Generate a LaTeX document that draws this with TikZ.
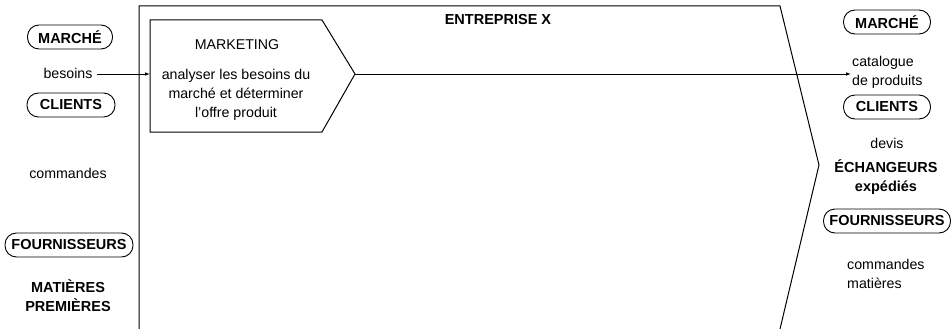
\documentclass[tikz,border=0pt]{standalone}
\usepackage{fontspec}
\setmainfont{Liberation Sans}
\usetikzlibrary{arrows.meta}
\begin{document}
\begin{tikzpicture}[x=1pt,y=-1pt,
  txt/.style={font=\fontsize{14.2}{19}\selectfont, inner sep=1pt, align=center},
  btxt/.style={txt, font=\fontsize{14.5}{19}\selectfont\bfseries},
  oval/.style={btxt, draw, line width=0.9pt, rectangle, rounded corners=11.5pt, minimum height=24pt, inner xsep=4pt},
  frame/.style={line width=1pt},
  arr/.style={line width=0.9pt, -{Latex[length=5pt,width=3.6pt]}}]
\useasboundingbox (0,0) rectangle (951,329);
% enterprise frame
\draw[frame] (139,329) -- (139,6) -- (780,6) -- (819,165) -- (780,329);
\node[btxt] (ent) at (498,20) {ENTREPRISE X};
% marketing pentagon
\coordinate (mkw) at (150,74);
\coordinate (mktip) at (355,74);
\draw[frame] (150,20) -- (322,20) -- (mktip) -- (322,132) -- (150,132) -- cycle;
\node[txt] (mkt) at (237,45) {MARKETING};
\node[txt] (mkd) at (236,95) {analyser les besoins du\\marché et déterminer\\l'offre produit};
% left side
\node[oval, minimum width=85pt] (marcheL) at (70,37) {MARCHÉ};
\node[txt] (besoins) at (68,73) {besoins};
\node[oval, minimum width=88pt] (clientsL) at (71,105) {CLIENTS};
\node[txt] (commandesL) at (68,173) {commandes};
\node[oval, minimum width=128pt] (fournL) at (69,245) {FOURNISSEURS};
\node[btxt] (matieres) at (68,296) {MATIÈRES\\PREMIÈRES};
% right side
\node[oval, minimum width=87pt] (marcheR) at (887,22) {MARCHÉ};
\node[txt, align=left, anchor=west] (catalogue) at (851,72) {catalogue\\de produits};
\node[oval, minimum width=87pt] (clientsR) at (887,107) {CLIENTS};
\node[txt] (devis) at (887,143) {devis};
\node[btxt] (echang) at (886,177) {ÉCHANGEURS\\expédiés};
\node[oval, minimum width=127pt] (fournR) at (887,221) {FOURNISSEURS};
\node[txt, align=left, anchor=west] (cmdmat) at (846,274) {commandes\\matières};
% connectors
\draw[arr] (besoins.east) ++(3,1) -- (mkw);
\draw[arr] (mktip) -- (mktip -| catalogue.west);
\end{tikzpicture}
\end{document}
